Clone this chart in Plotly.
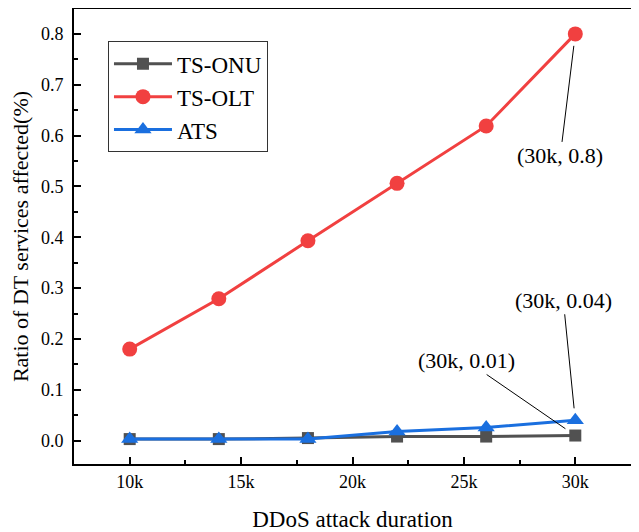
import plotly.graph_objects as go

# Data
durations_k = [10, 14, 18, 22, 26, 30]
ts_onu = [0.003, 0.003, 0.005, 0.008, 0.008, 0.01]
ts_olt = [0.18, 0.279, 0.393, 0.506, 0.619, 0.8]
ats = [0.003, 0.003, 0.003, 0.018, 0.026, 0.04]
x_tick_vals = [10, 15, 20, 25, 30]
x_tick_text = ["10k", "15k", "20k", "25k", "30k"]

FONT = "Liberation Serif"
GREY = "#515151"
RED = "#F14040"
BLUE = "#1A6FDF"

fig = go.Figure()
fig.add_trace(go.Scatter(x=durations_k, y=ts_onu, name="TS-ONU", mode="lines+markers",
                         line=dict(color=GREY, width=3),
                         marker=dict(symbol="square", size=12, color=GREY)))
fig.add_trace(go.Scatter(x=durations_k, y=ts_olt, name="TS-OLT", mode="lines+markers",
                         line=dict(color=RED, width=3),
                         marker=dict(symbol="circle", size=15, color=RED)))
fig.add_trace(go.Scatter(x=durations_k, y=ats, name="ATS", mode="lines+markers",
                         line=dict(color=BLUE, width=3),
                         marker=dict(symbol="triangle-up", size=15, color=BLUE)))

ann_font = dict(family=FONT, size=22, color="black")
annots = [
    (durations_k[-1], ts_olt[-1], "(30k, 0.8)", -15, 122),
    (durations_k[-1], ats[-1], "(30k, 0.04)", -12, -120),
    (durations_k[-1], ts_onu[-1], "(30k, 0.01)", -109, -75),
]
for x, y, t, ax, ay in annots:
    fig.add_annotation(x=x, y=y, text=t, showarrow=True, arrowhead=0, arrowwidth=1,
                       arrowcolor="black", ax=ax, ay=ay, standoff=12, font=ann_font)

fig.update_layout(
    width=631, height=524,
    margin=dict(l=66, r=8, t=1, b=68, autoexpand=False),
    paper_bgcolor="white", plot_bgcolor="white",
    font=dict(family=FONT, color="black"),
    showlegend=True,
    legend=dict(x=0.061, y=0.929, xanchor="left", yanchor="top",
                bordercolor="#333333", borderwidth=1, bgcolor="white",
                font=dict(family=FONT, size=23), itemwidth=58,
                tracegroupgap=0),
)
fig.update_xaxes(range=[7.5, 32.5], tickvals=x_tick_vals, ticktext=x_tick_text,
                 automargin=False,
                 showgrid=False, zeroline=False, showline=True, linecolor="black",
                 linewidth=2, mirror=True, ticks="inside", ticklen=7, tickwidth=2,
                 tickcolor="black", tickfont=dict(family=FONT, size=18),
                 ticklabelstandoff=0,
                 minor=dict(ticks="inside", ticklen=4, tickwidth=2, tickcolor="black", dtick=2.5, tick0=7.5),
                 title=dict(text="DDoS attack duration", font=dict(family=FONT, size=23), standoff=22))
fig.update_yaxes(range=[-0.046, 0.849], dtick=0.1, tick0=0, tickformat=".1f",
                 automargin=False,
                 showgrid=False, zeroline=False, showline=True, linecolor="black",
                 linewidth=2, mirror=True, ticks="inside", ticklen=7, tickwidth=2,
                 tickcolor="black", tickfont=dict(family=FONT, size=18),
                 ticklabelstandoff=5,
                 minor=dict(ticks="inside", ticklen=4, tickwidth=2, tickcolor="black", dtick=0.05, tick0=0),
                 title=dict(text="Ratio of DT services affected(%)", font=dict(family=FONT, size=22), standoff=6))

fig.write_html("out.html")
